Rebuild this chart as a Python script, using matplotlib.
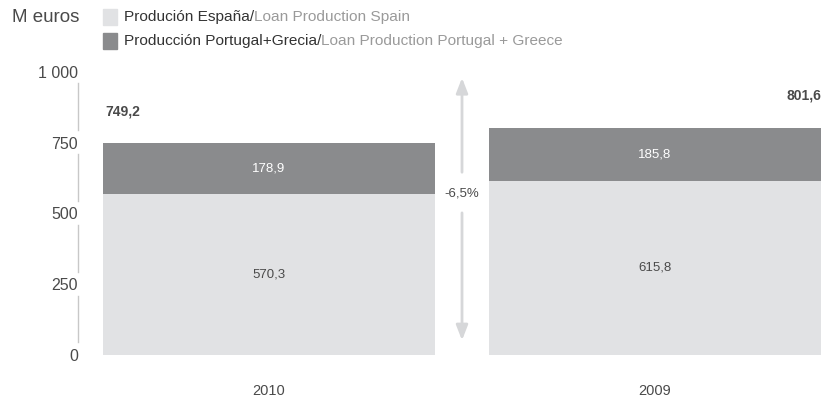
import matplotlib
matplotlib.use("Agg")
import matplotlib.pyplot as plt
import numpy as np

# datos
years = ["2010", "2009"]
spain = [570.3, 615.8]
port_grec = [178.9, 185.8]
totals = ["749,2", "801,6"]
change_label = "-6,5%"
yticks = [0, 250, 500, 750, 1000]
ytick_labels = ["0", "250", "500", "750", "1 000"]
legend_es = ["Produción España/", "Producción Portugal+Grecia/"]
legend_en = ["Loan Production Spain", "Loan Production Portugal + Greece"]

c_light = "#e1e2e4"
c_dark = "#8a8b8d"
c_text = "#4a4a4a"
c_axis = "#c8c8c8"

plt.rcParams["font.family"] = ["Liberation Sans", "DejaVu Sans"]

fig = plt.figure(figsize=(8.32, 4.03), dpi=100)
ax = fig.add_axes([78/832, 1-355/403, 1-78/832, (355-72)/403])

x = np.arange(len(years))
w = 0.86
ax.bar(x, spain, w, color=c_light)
ax.bar(x, port_grec, w, bottom=spain, color=c_dark)

for i in range(len(years)):
    ax.text(x[i], spain[i]/2, f"{spain[i]:.1f}".replace(".", ","), ha="center", va="center",
            fontsize=9.5, color=c_text)
    ax.text(x[i], spain[i] + port_grec[i]/2, f"{port_grec[i]:.1f}".replace(".", ","),
            ha="center", va="center", fontsize=9.5, color="white")
# totales
ax.text(x[0] - w/2 + 0.005, spain[0] + port_grec[0] + 110, totals[0], ha="left", va="center",
        fontsize=10, fontweight="bold", color=c_text)
ax.text(x[1] + w/2, spain[1] + port_grec[1] + 117, totals[1], ha="right", va="center",
        fontsize=10, fontweight="bold", color=c_text)

ax.set_xlim(-0.4948, 1.4585)
ax.set_ylim(0, 1000)
for s in ax.spines.values():
    s.set_visible(False)
ax.set_xticks(x)
ax.set_xticklabels(years, fontsize=10.5, color=c_text)
ax.tick_params(axis="x", length=0, pad=21)
ax.set_yticks(yticks)
ax.set_yticklabels(ytick_labels, fontsize=11.5, color=c_text)
ax.tick_params(axis="y", length=0, pad=0)

# eje vertical con huecos en cada marca
xl = ax.get_xlim()[0]
for a, b in zip(yticks[:-1], yticks[1:]):
    ax.plot([xl, xl], [a + 45, b - 40], color=c_axis, lw=1, clip_on=False)

# flecha de variación
xm = 0.5
arrow = dict(arrowstyle="-|>,head_width=0.35,head_length=0.9", color="#d6d7d9", lw=2)
ax.annotate("", xy=(xm, 989), xytext=(xm, 636), arrowprops=arrow)
ax.annotate("", xy=(xm, 42), xytext=(xm, 512), arrowprops=arrow)
ax.text(xm, 569, change_label, ha="center", va="center", fontsize=9.5, color=c_text)

# cabecera y leyenda
fig.text(12/832, 1-18/403, "M euros", fontsize=13.5, color=c_text, va="center")
fig.canvas.draw()
r = fig.canvas.get_renderer()
for k, (es, en, col) in enumerate(zip(legend_es, legend_en, [c_light, c_dark])):
    yc = 1 - (17 + 24*k)/403
    fig.patches.append(plt.Rectangle((103/832, yc - 7.5/403), 14/832, 15/403,
                                     transform=fig.transFigure, color=col))
    t1 = fig.text(124/832, yc, es, fontsize=11.1, color="#333333", va="center")
    bb = t1.get_window_extent(renderer=r)
    fig.text(bb.x1/832, yc, en, fontsize=11.1, color="#9a9a9a", va="center")

fig.savefig("out.png", dpi=100)
